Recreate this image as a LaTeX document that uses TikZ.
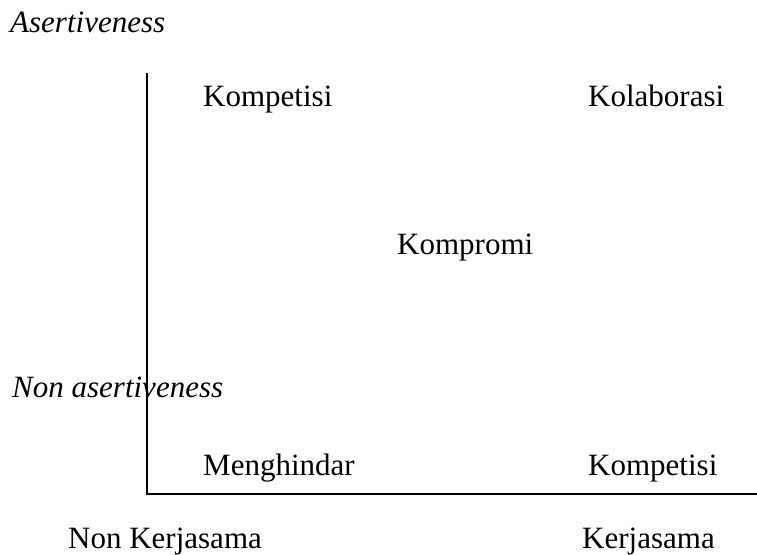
\documentclass[tikz,border=0pt]{standalone}
\usepackage{fontspec}
\setmainfont{Liberation Serif}
\begin{document}
\begin{tikzpicture}[x=1bp, y=-1bp, line cap=butt,
  lbl/.style={anchor=base west, inner sep=0pt, font=\fontsize{31bp}{37bp}\selectfont},
  ital/.style={lbl, font=\fontsize{31bp}{37bp}\selectfont\itshape}]
  \useasboundingbox (0,0) rectangle (757,555);

  \coordinate (Y) at (147,73);
  \coordinate (O) at (147,494);
  \coordinate (X) at (757,494);
  \draw[line width=1.6bp] (Y) -- (O) -- (X);

  \node[ital] (ast) at (10,33) {Asertiveness};
  \node[ital] (nast) at (12,397) {Non asertiveness};

  \node[lbl] (kom1) at (203,107) {Kompetisi};
  \node[lbl] (kol) at (588,107) {Kolaborasi};
  \node[lbl] (kpr) at (397,255) {Kompromi};
  \node[lbl] (mgh) at (203,475) {Menghindar};
  \node[lbl] (kom2) at (588,475) {Kompetisi};

  \node[lbl] (nkj) at (68,548) {Non Kerjasama};
  \node[lbl] (kj) at (582,548) {Kerjasama};
\end{tikzpicture}
\end{document}
